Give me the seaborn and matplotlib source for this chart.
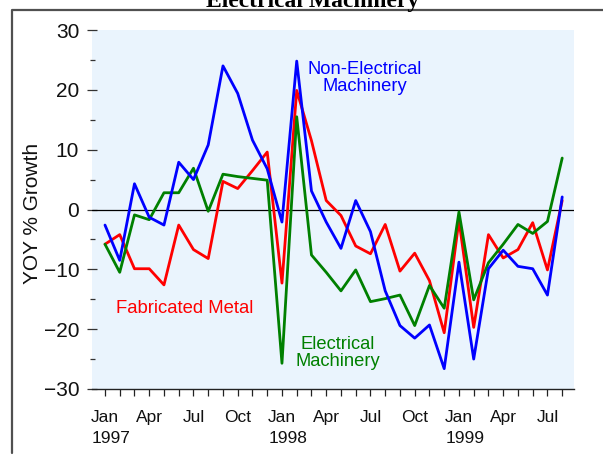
import numpy as np
import pandas as pd
import matplotlib
matplotlib.use("Agg")
import matplotlib.pyplot as plt
import seaborn as sns
from matplotlib.lines import Line2D

# ---- data ----
month_names = ["Jan", "Feb", "Mar", "Apr", "May", "Jun",
               "Jul", "Aug", "Sep", "Oct", "Nov", "Dec"]
years = ["1997", "1998", "1999"]
n_months = 32  # Jan 1997 .. Aug 1999

non_electrical = [-2.6, -8.5, 4.3, -1.3, -2.6, 7.9, 5.0, 10.8, 24.0, 19.4, 11.6, 6.8,
                  -2.1, 24.8, 3.1, -2.1, -6.5, 1.5, -3.7, -13.6, -19.4, -21.5, -19.3, -26.6,
                  -8.8, -25.0, -9.9, -6.8, -9.5, -9.9, -14.3, 2.1]
fabricated = [-5.8, -4.2, -9.9, -9.9, -12.6, -2.6, -6.7, -8.2, 4.7, 3.5, 6.5, 9.6,
              -12.3, 19.9, 11.5, 1.5, -1.0, -6.1, -7.4, -2.5, -10.3, -7.3, -11.9, -20.6,
              -1.8, -19.7, -4.2, -8.1, -6.7, -2.2, -10.1, 1.5]
electrical = [-5.8, -10.5, -0.9, -1.7, 2.8, 2.8, 6.9, -0.3, 5.9, 5.5, 5.2, 4.9,
              -25.7, 15.5, -7.6, -10.5, -13.6, -10.1, -15.4, -14.9, -14.3, -19.4, -12.7, -16.5,
              -0.4, -15.1, -8.9, -5.8, -2.5, -4.0, -2.0, 8.6]

series_names = ["Fabricated Metal", "Electrical Machinery", "Non-Electrical Machinery"]
series_colors = ["#FF0000", "#008000", "#0000FF"]

idx = list(range(n_months))
df = pd.concat([
    pd.DataFrame({"idx": idx, "value": fabricated, "series": series_names[0]}),
    pd.DataFrame({"idx": idx, "value": electrical, "series": series_names[1]}),
    pd.DataFrame({"idx": idx, "value": non_electrical, "series": series_names[2]}),
])

tick_labels = [month_names[i % 12] if (i % 12) in (0, 3, 6, 9) else "" for i in idx]
year_pos = [0, 12, 24]

# ---- style ----
sns.set_theme(style="white")
plt.rcParams['font.family'] = ['Liberation Sans', 'DejaVu Sans']

W, H = 603, 455
fig = plt.figure(figsize=(W / 100, H / 100), dpi=100)
fig.patch.set_facecolor("white")
ax = fig.add_axes([92 / W, 1 - 389 / H, (574 - 92) / W, (389 - 30) / H])
ax.set_facecolor("#EAF4FD")

ax.axhline(0, color="black", lw=0.9, zorder=1)

sns.lineplot(data=df, x="idx", y="value", hue="series", hue_order=series_names,
             palette=series_colors, linewidth=2.0, legend=False, sort=False, ax=ax,
             zorder=2)

ax.set_xlim(-0.88, 31.8)
ax.set_ylim(-30, 30)

ax.set_xticks(idx)
ax.set_xticklabels(tick_labels)
ax.set_yticks(range(-30, 31, 10))
ax.set_yticks(range(-25, 26, 10), minor=True)

ax.tick_params(axis="x", which="major", direction="out", length=5, width=0.9,
               pad=10, labelsize=12.5, color="#222222", labelcolor="#111111",
               bottom=True)
ax.tick_params(axis="y", which="major", direction="inout", length=6.5, width=0.9,
               pad=6, labelsize=15, color="#333333", labelcolor="#111111", left=True)
ax.tick_params(axis="y", which="minor", direction="inout", length=3.6, width=0.9,
               color="#333333", left=True)

for s in ["left", "top", "right"]:
    ax.spines[s].set_visible(False)
ax.spines["bottom"].set_color("#222222")
ax.spines["bottom"].set_linewidth(1.0)

ax.set_xlabel("")
ax.set_ylabel("")

# year labels under the Jan ticks
for p, yr in zip(year_pos, years):
    ax.text(p - 0.88, -0.139, yr, transform=ax.get_xaxis_transform(),
            ha="left", va="center", fontsize=12.5, color="#111111")

# series annotations
ax.text(17.6, 22.0, "Non-Electrical\nMachinery", color="#0000FF", fontsize=13.2,
        ha="center", va="center", linespacing=1.0)
ax.text(5.4, -16.5, "Fabricated Metal", color="#FF0000", fontsize=13.3,
        ha="center", va="center")
ax.text(15.8, -23.9, "Electrical\nMachinery", color="#008000", fontsize=13.2,
        ha="center", va="center", linespacing=1.0)

# y label
fig.text(33 / W, 1 - 213 / H, "YOY % Growth", rotation=90, ha="center", va="center",
         fontsize=15, color="#111111")

# title (partly above the top edge, as in the reference)
fig.text(313 / W, 1 - 7 / H, "Electrical Machinery", ha="center", va="baseline",
         fontsize=17, fontweight="bold", family=["Liberation Serif", "DejaVu Serif"],
         color="black")

# outer frame (left and top edges)
fig.add_artist(Line2D([12 / W, 12 / W, 1.0], [1 - 453 / H, 1 - 10 / H, 1 - 10 / H],
                      transform=fig.transFigure, color="#505050", lw=1.6))

fig.savefig("out.png", dpi=100)
